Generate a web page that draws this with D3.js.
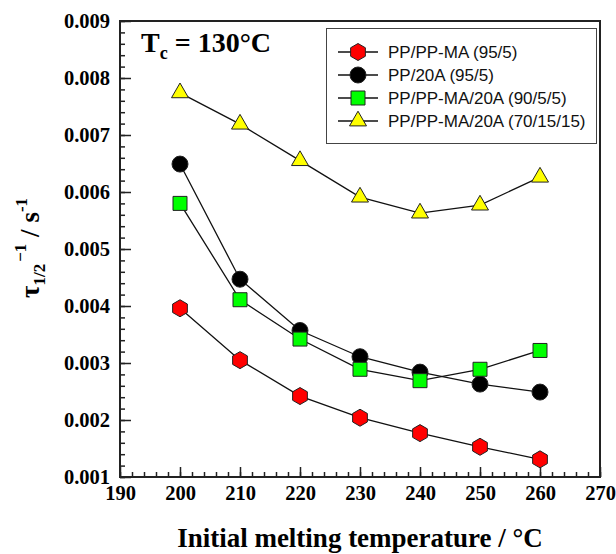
<!DOCTYPE html>
<meta charset="utf-8">
<script src="https://d3js.org/d3.v7.min.js"></script>
<style>
  body { margin: 0; background: #fff; }
  .tick text { font-family: "Liberation Serif", "Times New Roman", serif; font-weight: bold; font-size: 20.5px; fill: #000; }
  .tick line { stroke: #222; stroke-width: 1.5; }
</style>
<div id="chart"></div>
<script>

// data
var temps = [200, 210, 220, 230, 240, 250, 260];
var ppMa      = [0.00396, 0.00305, 0.00242, 0.00204, 0.00177, 0.00153, 0.00131];
var pp20a     = [0.00649, 0.00447, 0.00357, 0.00311, 0.00284, 0.00263, 0.00249];
var ppMa20a90 = [0.00580, 0.00411, 0.00342, 0.00289, 0.00269, 0.00289, 0.00322];
var ppMa20a70 = [0.00774, 0.00719, 0.00655, 0.00591, 0.00563, 0.00577, 0.00626];

var seriesNames = ["PP/PP-MA (95/5)", "PP/20A (95/5)", "PP/PP-MA/20A (90/5/5)", "PP/PP-MA/20A (70/15/15)"];
var xTicks = [190, 200, 210, 220, 230, 240, 250, 260, 270];
var yTicks = [0.001, 0.002, 0.003, 0.004, 0.005, 0.006, 0.007, 0.008, 0.009];

var series = [
  {name: seriesNames[0], values: ppMa,      shape: "hexagon",  fill: "#ff0000"},
  {name: seriesNames[1], values: pp20a,     shape: "circle",   fill: "#000000"},
  {name: seriesNames[2], values: ppMa20a90, shape: "square",   fill: "#00ff00"},
  {name: seriesNames[3], values: ppMa20a70, shape: "triangle", fill: "#ffff00"}
];

var W = 616, H = 554;
var margin = {top: 21, right: 16, bottom: 77, left: 120},
    width = W - margin.left - margin.right,
    height = H - margin.top - margin.bottom;

var svg = d3.select("#chart").append("svg")
    .attr("width", W)
    .attr("height", H);

var g = svg.append("g")
    .attr("transform", "translate(" + margin.left + "," + margin.top + ")");

var x = d3.scaleLinear().domain([190, 270]).range([0, width]);
var y = d3.scaleLinear().domain([0.001, 0.009]).range([height, 0]);

// minor ticks (inward)
g.append("g")
    .attr("transform", "translate(0," + height + ")")
    .call(d3.axisBottom(x).tickValues(d3.range(190, 270.1, 2)).tickSize(-5).tickFormat(""))
    .call(function(a) { a.select(".domain").remove(); });
g.append("g")
    .call(d3.axisLeft(y).tickValues(d3.range(10, 90.1, 2).map(function(v) { return v / 10000; })).tickSize(-5).tickFormat(""))
    .call(function(a) { a.select(".domain").remove(); });

// major ticks
g.append("g")
    .attr("transform", "translate(0," + height + ")")
    .call(d3.axisBottom(x).tickValues(xTicks).tickSize(-10).tickPadding(8).tickFormat(d3.format("d")))
    .call(function(a) { a.select(".domain").remove(); });
g.append("g")
    .call(d3.axisLeft(y).tickValues(yTicks).tickSize(-11).tickPadding(10).tickFormat(d3.format(".3f")))
    .call(function(a) { a.select(".domain").remove(); });

// frame
g.append("rect")
    .attr("width", width)
    .attr("height", height)
    .attr("fill", "none")
    .attr("stroke", "#222")
    .attr("stroke-width", 2);

// marker shapes
function hexPath(r) {
  var pts = d3.range(6).map(function(i) {
    var a = Math.PI / 3 * i;
    return [r * Math.sin(a), -r * Math.cos(a)];
  });
  return d3.line()(pts) + "Z";
}
function shapePath(s) {
  if (s === "hexagon") return hexPath(8.5);
  if (s === "circle") return d3.symbol(d3.symbolCircle, 201)();
  if (s === "square") return d3.symbol(d3.symbolSquare, 196)();
  return d3.symbol(d3.symbolTriangle, 125)();
}

var line = d3.line()
    .x(function(d, i) { return x(temps[i]); })
    .y(function(d) { return y(d); });

series.forEach(function(s) {
  g.append("path")
      .datum(s.values)
      .attr("d", line)
      .attr("fill", "none")
      .attr("stroke", "#111")
      .attr("stroke-width", 1.3);
  g.selectAll(null)
      .data(s.values)
      .enter().append("path")
      .attr("d", shapePath(s.shape))
      .attr("transform", function(d, i) { return "translate(" + x(temps[i]) + "," + y(d) + ")"; })
      .attr("fill", s.fill)
      .attr("stroke", "#222")
      .attr("stroke-width", 1);
});

// T_c label
var tc = svg.append("text")
    .attr("x", 141)
    .attr("y", 52)
    .attr("font-family", "Liberation Serif, Times New Roman, serif")
    .attr("font-weight", "bold")
    .attr("font-size", 28);
tc.append("tspan").text("T");
tc.append("tspan").attr("font-size", 18).attr("dy", 7).text("c");
tc.append("tspan").attr("dy", -7).text(" = 130°C");

// legend
var leg = svg.append("g");
leg.append("rect")
    .attr("x", 326.5).attr("y", 28.5)
    .attr("width", 270).attr("height", 115)
    .attr("fill", "#fff")
    .attr("stroke", "#444")
    .attr("stroke-width", 1);
series.forEach(function(s, i) {
  var ly = 52 + i * 23;
  leg.append("line")
      .attr("x1", 338).attr("x2", 378)
      .attr("y1", ly).attr("y2", ly)
      .attr("stroke", "#111").attr("stroke-width", 1.3);
  leg.append("path")
      .attr("d", shapePath(s.shape))
      .attr("transform", "translate(358," + ly + ")")
      .attr("fill", s.fill)
      .attr("stroke", "#222");
  leg.append("text")
      .attr("x", 388).attr("y", ly)
      .attr("dy", "0.36em")
      .attr("font-family", "Liberation Sans, Arial, sans-serif")
      .attr("font-size", 17)
      .attr("fill", "#111")
      .text(s.name);
});

// x axis title
svg.append("text")
    .attr("x", 360)
    .attr("y", 547)
    .attr("text-anchor", "middle")
    .attr("font-family", "Liberation Serif, Times New Roman, serif")
    .attr("font-weight", "bold")
    .attr("font-size", 27)
    .text("Initial melting temperature / °C");

// y axis title
var yt = svg.append("text")
    .attr("transform", "translate(39,298) rotate(-90)")
    .attr("font-family", "Liberation Serif, Times New Roman, serif")
    .attr("font-weight", "bold")
    .attr("font-size", 27);
yt.append("tspan").text("τ");
yt.append("tspan").attr("font-size", 17).attr("dy", 6).text("1/2");
yt.append("tspan").attr("font-size", 17).attr("dy", -19).attr("dx", 2).text("−1");
yt.append("tspan").attr("dy", 13).text(" / s");
yt.append("tspan").attr("font-size", 17).attr("dy", -12).text("-1");

</script>
